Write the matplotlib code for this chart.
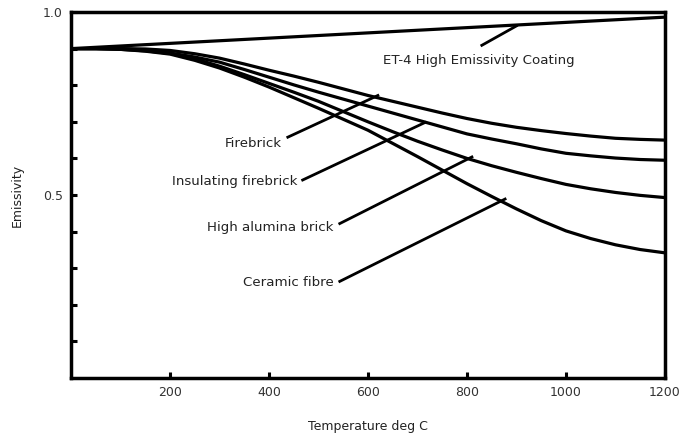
import matplotlib.pyplot as plt
import numpy as np

# temperature (deg C) and emissivity
temps = [0, 50, 100, 150, 200, 250, 300, 350, 400, 450, 500, 550, 600,
         650, 700, 750, 800, 850, 900, 950, 1000, 1050, 1100, 1150, 1200]
firebrick = [0.900, 0.900, 0.900, 0.899, 0.895, 0.886, 0.874, 0.858, 0.841, 0.825, 0.808, 0.790, 0.772,
             0.756, 0.740, 0.724, 0.709, 0.696, 0.685, 0.676, 0.668, 0.661, 0.655, 0.652, 0.650]
insulating = [0.900, 0.900, 0.900, 0.896, 0.888, 0.877, 0.863, 0.843, 0.822, 0.801, 0.781, 0.762, 0.743,
              0.724, 0.705, 0.686, 0.667, 0.653, 0.640, 0.626, 0.614, 0.607, 0.601, 0.597, 0.595]
alumina = [0.900, 0.900, 0.898, 0.894, 0.887, 0.872, 0.852, 0.829, 0.805, 0.781, 0.756, 0.728, 0.700,
           0.673, 0.647, 0.623, 0.600, 0.580, 0.562, 0.545, 0.529, 0.517, 0.507, 0.499, 0.493]
ceramic = [0.900, 0.900, 0.898, 0.893, 0.885, 0.868, 0.847, 0.822, 0.795, 0.766, 0.737, 0.707, 0.677,
           0.641, 0.605, 0.568, 0.531, 0.496, 0.462, 0.430, 0.402, 0.381, 0.364, 0.351, 0.342]

# the coating line is straight
et4_temps = [0, 600, 1200]
et4 = [0.900, 0.943, 0.986]

# label text, text anchor (x, y), pointer start, pointer end
labels = ['ET-4 High Emissivity Coating', 'Firebrick', 'Insulating firebrick',
          'High alumina brick', 'Ceramic fibre']
text_pos = [(630, 0.868), (426, 0.640), (457, 0.536), (531, 0.412), (531, 0.261)]
text_ha = ['left', 'right', 'right', 'right', 'right']
ptr_start = [(830, 0.909), (438, 0.658), (468, 0.541), (543, 0.422), (543, 0.264)]
ptr_end = [(900, 0.962), (620, 0.772), (715, 0.698), (810, 0.604), (877, 0.489)]

fig = plt.figure(figsize=(6.93, 4.37), dpi=100)
ax = fig.add_axes([0.1025, 0.135, 0.857, 0.8375])

ax.plot(et4_temps, et4, color='black', linewidth=2.3)
for series in [firebrick, insulating, alumina, ceramic]:
    ax.plot(temps, series, color='black', linewidth=2.3, solid_joinstyle='round')

for i in range(len(labels)):
    ax.plot([ptr_start[i][0], ptr_end[i][0]], [ptr_start[i][1], ptr_end[i][1]],
            color='black', linewidth=2.0)
    ax.text(text_pos[i][0], text_pos[i][1], labels[i], ha=text_ha[i], va='center',
            fontsize=9.6, color='#222222')

ax.set_xlim(0, 1200)
ax.set_ylim(0, 1.0)
ax.set_xticks([200, 400, 600, 800, 1000, 1200])
ax.set_yticks([0.5, 1.0])
ax.set_yticklabels(['0.5', '1.0'])
ax.set_yticks(np.arange(0.1, 1.0, 0.1), minor=True)
ax.tick_params(axis='both', which='both', direction='in', length=4, width=2.2,
               labelsize=9, labelcolor='#333333', pad=6)
for side in ['left', 'right', 'top', 'bottom']:
    ax.spines[side].set_linewidth(2.5)

ax.set_xlabel('Temperature deg C', fontsize=9, color='#222222', labelpad=15)
ax.set_ylabel('Emissivity', fontsize=9, color='#222222', labelpad=14)

plt.savefig('out.png', dpi=100)
plt.close()
